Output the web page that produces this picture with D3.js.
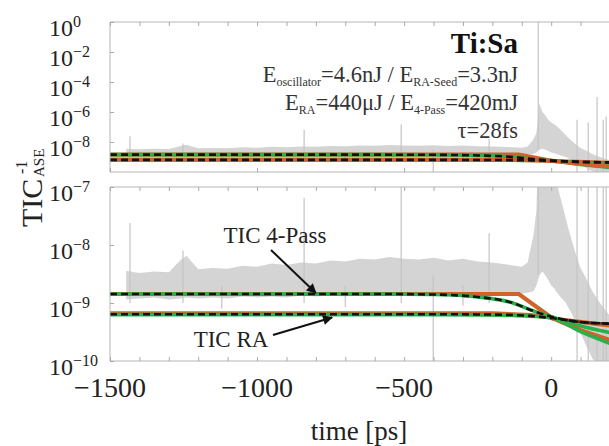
<!DOCTYPE html>
<html>
<head>
<meta charset="UTF-8">
<script src="https://cdn.jsdelivr.net/npm/d3@7"></script>
<style>
  body { margin: 0; background: #fff; }
</style>
</head>
<body>
<script>
var noiseTime = [-1445, -1400, -1350, -1300, -1260, -1240, -1200, -1150, -1100, -1050, -1000, -950, -900, -850, -800,
  -750, -700, -650, -600, -550, -500, -450, -400, -350, -300, -250, -200, -150, -100, -80, -60, -50, -40, -30, -20,
  -10, 0, 10, 20, 30, 40, 50, 60, 70, 80, 90, 100, 120, 140, 160, 180, 200];
var noiseHigh = [3.6e-9, 3.3e-9, 3.5e-9, 3.4e-9, 5.5e-9, 6.5e-9, 3.8e-9, 4.0e-9, 3.9e-9, 4.4e-9, 4.2e-9, 4.8e-9, 4.5e-9,
  5.0e-9, 4.8e-9, 5.4e-9, 5.2e-9, 5.8e-9, 5.6e-9, 6.2e-9, 5.8e-9, 5.6e-9, 6.0e-9, 5.4e-9, 5.8e-9, 5.2e-9, 5.0e-9, 4.6e-9,
  4.2e-9, 5.0e-9, 1.5e-8, 4e-8, 4e-6, 1e-6, 6e-7, 3e-7, 2e-7, 1.5e-7, 1.1e-7, 7e-8, 4.5e-8, 2.8e-8, 1.8e-8, 1.2e-8, 8e-9,
  5.5e-9, 4e-9, 2.6e-9, 1.6e-9, 1.1e-9, 8e-10, 6e-10];
var noiseLow = [1.15e-9, 1.2e-9, 1.25e-9, 1.15e-9, 1.2e-9, 1.25e-9, 1.2e-9, 1.25e-9, 1.2e-9, 1.3e-9, 1.25e-9, 1.3e-9,
  1.25e-9, 1.35e-9, 1.3e-9, 1.35e-9, 1.3e-9, 1.4e-9, 1.35e-9, 1.4e-9, 1.35e-9, 1.4e-9, 1.4e-9, 1.45e-9, 1.4e-9, 1.5e-9,
  1.5e-9, 1.5e-9, 1.45e-9, 1.5e-9, 1.6e-9, 2e-9, 3e-9, 3.5e-9, 3e-9, 2.5e-9, 2e-9, 1.8e-9, 1.5e-9, 1.3e-9, 1.15e-9, 1e-9,
  8e-10, 6.5e-10, 5e-10, 4e-10, 3e-10, 1.8e-10, 1.1e-10, 8e-11, 6e-11, 5e-11];

// single spikes of the trace
var spikeTime = [-1432, -1252, -1120, -840, -700, -510, -401, -300, -211, -44, 88, 126, 156, 177, 187];
var spikeHigh = [2.4e-8, 8e-9, 2e-9, 6.5e-8, 2e-9, 1.5e-7, 3e-9, 2e-9, 1.6e-8, 1, 3e-7, 2e-7, 1e-5, 3e-7, 5e-7];
var spikeLow = [1e-9, 1e-9, 8e-10, 1e-9, 8.5e-10, 1e-9, 5e-11, 9e-10, 1e-9, 3e-9, 5e-11, 5e-11, 5e-11, 5e-11, 5e-11];

// TIC fits
var passOrangeTime = [-1500, -110, 5, 200];
var passOrange = [1.43e-9, 1.43e-9, 5.4e-10, 4.1e-10];
var raOrangeTime = [-1500, -200, -70, 0, 100, 200];
var raOrange = [6.6e-10, 6.6e-10, 6.2e-10, 5.6e-10, 3.4e-10, 2.3e-10];
var smoothTime = [-1500, -600, -400, -250, -130, -70, 0, 100, 200];
var passGreen = [1.43e-9, 1.43e-9, 1.40e-9, 1.27e-9, 1.0e-9, 7.6e-10, 5.8e-10, 4.0e-10, 3.1e-10];
var passDash = [1.43e-9, 1.43e-9, 1.40e-9, 1.27e-9, 1.0e-9, 7.6e-10, 5.8e-10, 4.7e-10, 4.4e-10];
var raGreen = [6.3e-10, 6.3e-10, 6.3e-10, 6.25e-10, 6.1e-10, 5.9e-10, 5.6e-10, 3.2e-10, 2.0e-10];
var raDash = [6.4e-10, 6.4e-10, 6.4e-10, 6.35e-10, 6.2e-10, 6.0e-10, 5.5e-10, 4.7e-10, 4.4e-10];

var xTicks = d3.range(-1500, 201, 100);
var xLabels = [-1500, -1000, -500, 0];

var width = 609, height = 446;
var svg = d3.select("body").append("svg")
    .attr("width", width)
    .attr("height", height);

var x = d3.scaleLinear().domain([-1500, 200]).range([110, 610]);
var yTop = d3.scaleLog().domain([1e-10, 1]).range([172, 22]);
var yBot = d3.scaleLog().domain([1e-10, 1e-7]).range([361, 187]);

var defs = svg.append("defs");
defs.append("marker")
    .attr("id", "head")
    .attr("viewBox", "0 0 10 10")
    .attr("refX", 9).attr("refY", 5)
    .attr("markerWidth", 6).attr("markerHeight", 5)
    .attr("orient", "auto")
    .append("path").attr("d", "M0,0L10,5L0,10z").attr("fill", "#111");

function zip(ts, vs) {
    return ts.map(function (t, i) { return [t, vs[i]]; });
}

function drawPanel(y, id, yTicks, raOrangeOnTop) {
    defs.append("clipPath").attr("id", id)
        .append("rect")
        .attr("x", x.range()[0]).attr("y", y.range()[1])
        .attr("width", x.range()[1] - x.range()[0])
        .attr("height", y.range()[0] - y.range()[1]);

    var g = svg.append("g");
    var plot = g.append("g").attr("clip-path", "url(#" + id + ")");

    // grey noise band
    var band = noiseTime.map(function (t, i) { return {t: t, hi: noiseHigh[i], lo: noiseLow[i]}; });
    plot.append("path")
        .datum(band)
        .attr("fill", "#d4d4d4")
        .attr("d", d3.area()
            .x(function (d) { return x(d.t); })
            .y0(function (d) { return y(d.lo); })
            .y1(function (d) { return y(d.hi); }));

    plot.selectAll(".spike")
        .data(spikeTime)
        .enter().append("line")
        .attr("class", "spike")
        .attr("x1", function (d) { return x(d); })
        .attr("x2", function (d) { return x(d); })
        .attr("y1", function (d, i) { return y(spikeHigh[i]); })
        .attr("y2", function (d, i) { return y(spikeLow[i]); })
        .attr("stroke", "#c4c4c4")
        .attr("stroke-width", 1.2);

    var line = d3.line()
        .x(function (d) { return x(d[0]); })
        .y(function (d) { return y(d[1]); });
    var smooth = d3.line()
        .curve(d3.curveMonotoneX)
        .x(function (d) { return x(d[0]); })
        .y(function (d) { return y(d[1]); });

    var orange = "#d2622c", green = "#27b24a";

    function draw(data, gen, color, w, dash) {
        plot.append("path")
            .datum(data)
            .attr("fill", "none")
            .attr("stroke", color)
            .attr("stroke-width", w)
            .attr("stroke-dasharray", dash || null)
            .attr("d", gen);
    }

    draw(zip(passOrangeTime, passOrange), line, orange, 4.2);
    draw(zip(smoothTime, passGreen), smooth, green, 3.6);
    if (raOrangeOnTop) {
        draw(zip(smoothTime, raGreen), smooth, green, 3.6);
        draw(zip(raOrangeTime, raOrange), line, orange, 4.2);
    } else {
        draw(zip(raOrangeTime, raOrange), line, orange, 4.2);
        draw(zip(smoothTime, raGreen), smooth, green, 3.6);
    }
    draw(zip(smoothTime, passDash), smooth, "#111", 2.6, "7,4");
    draw(zip(smoothTime, raDash), smooth, "#111", 2.6, "7,4");

    // frame
    var x0 = x.range()[0], x1 = x.range()[1], yT = y.range()[1], yB = y.range()[0];
    g.append("path")
        .attr("d", "M" + x1 + "," + yT + "H" + x0 + "V" + yB + "H" + x1)
        .attr("fill", "none")
        .attr("stroke", "#b5b5b5")
        .attr("stroke-width", 1);

    // inward ticks
    function noDomain(a) {
        a.select(".domain").remove();
        a.selectAll(".tick line").attr("stroke", "#aaa");
    }
    g.append("g")
        .attr("transform", "translate(0," + yT + ")")
        .call(d3.axisTop(x).tickValues(xTicks).tickSize(-4).tickFormat(""))
        .call(noDomain);
    g.append("g")
        .attr("transform", "translate(0," + yB + ")")
        .call(d3.axisBottom(x).tickValues(id === "clipTop" ? xLabels : xTicks).tickSize(-4).tickFormat(""))
        .call(noDomain);
    g.append("g")
        .attr("transform", "translate(" + x0 + ",0)")
        .call(d3.axisLeft(y).tickValues(yTicks).tickSize(-4).tickFormat(""))
        .call(noDomain);

    // tick labels 10^n
    var lab = g.selectAll(".ylab")
        .data(yTicks)
        .enter().append("text")
        .attr("class", "ylab")
        .attr("x", 49)
        .attr("y", function (d) { return y(d) + 14; })
        .attr("font-size", 24)
        .attr("fill", "#222")
        .text("10");
    lab.append("tspan")
        .attr("font-size", 16)
        .attr("dy", -9)
        .text(function (d) {
            var e = Math.round(Math.log10(d));
            return e < 0 ? "\u2212" + (-e) : String(e);
        });
}

drawPanel(yTop, "clipTop", [1, 1e-2, 1e-4, 1e-6, 1e-8], true);
drawPanel(yBot, "clipBot", [1e-7, 1e-8, 1e-9, 1e-10], false);

// x tick labels
svg.selectAll(".xlab")
    .data(xLabels)
    .enter().append("text")
    .attr("class", "xlab")
    .attr("x", function (d) { return x(d); })
    .attr("y", 397)
    .attr("text-anchor", "middle")
    .attr("font-size", 28)
    .attr("fill", "#222")
    .text(function (d) { return d < 0 ? "\u2212" + (-d) : String(d); });

svg.append("text")
    .attr("x", 359).attr("y", 440)
    .attr("text-anchor", "middle")
    .attr("font-size", 27)
    .attr("fill", "#222")
    .text("time [ps]");

// y axis title
var yt = svg.append("g").attr("transform", "translate(42,227) rotate(-90)");
yt.append("text").attr("x", 0).attr("y", 0).attr("font-size", 30).attr("fill", "#222").text("TIC");
yt.append("text").attr("x", 50).attr("y", 2).attr("font-size", 15).attr("fill", "#222").text("ASE");
yt.append("text").attr("x", 53).attr("y", -15).attr("font-size", 16).attr("fill", "#222").text("-1");

// legend text, top right
svg.append("text")
    .attr("x", 518).attr("y", 53)
    .attr("text-anchor", "end")
    .attr("font-size", 29)
    .attr("font-weight", "bold")
    .attr("fill", "#111")
    .text("Ti:Sa");

function subLine(yPos, parts) {
    var t = svg.append("text")
        .attr("x", 518).attr("y", yPos)
        .attr("text-anchor", "end")
        .attr("font-size", 22.5)
        .attr("fill", "#333");
    var low = false;
    parts.forEach(function (p) {
        var s = t.append("tspan").text(p[0]);
        if (p[1] && !low) { s.attr("font-size", 12).attr("dy", 4); low = true; }
        else if (!p[1] && low) { s.attr("dy", -4); low = false; }
    });
}
subLine(82, [["E"], ["oscillator", 1], ["=4.6nJ / E"], ["RA-Seed", 1], ["=3.3nJ"]]);
subLine(110, [["E"], ["RA", 1], ["=440\u03bcJ / E"], ["4-Pass", 1], ["=420mJ"]]);
subLine(138, [["\u03c4=28fs"]]);

// annotations
svg.append("text")
    .attr("x", 275).attr("y", 243)
    .attr("text-anchor", "middle")
    .attr("font-size", 23)
    .attr("fill", "#222")
    .text("TIC 4-Pass");
svg.append("line")
    .attr("x1", 271).attr("y1", 250)
    .attr("x2", x(-800)).attr("y2", yBot(1.43e-9) - 1)
    .attr("stroke", "#111").attr("stroke-width", 2)
    .attr("marker-end", "url(#head)");

svg.append("text")
    .attr("x", 231).attr("y", 347)
    .attr("text-anchor", "middle")
    .attr("font-size", 23)
    .attr("fill", "#222")
    .text("TIC RA");
svg.append("line")
    .attr("x1", 273).attr("y1", 335)
    .attr("x2", x(-745)).attr("y2", yBot(6.6e-10) + 4)
    .attr("stroke", "#111").attr("stroke-width", 2)
    .attr("marker-end", "url(#head)");

svg.selectAll("text").style("font-family", "'Liberation Serif', serif");
</script>
</body>
</html>
